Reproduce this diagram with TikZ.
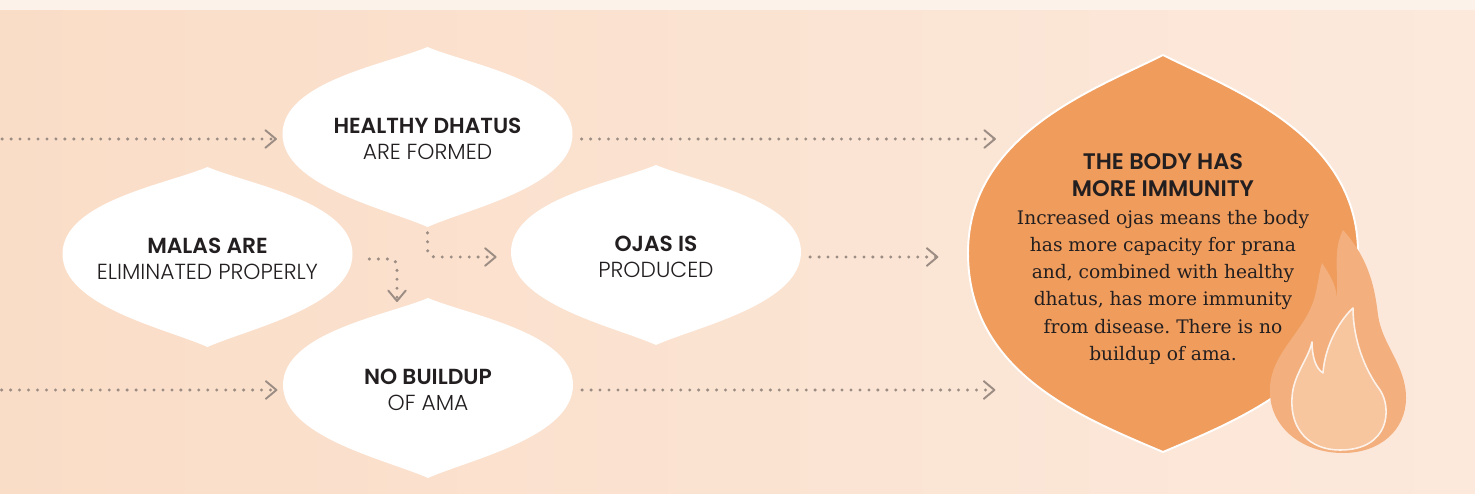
\documentclass[tikz,border=0pt]{standalone}
\usepackage{fontspec}
\setmainfont{DejaVu Serif}
\newfontfamily\headfont{Poppins}[UprightFont={* Light},BoldFont={* SemiBold}]
\usetikzlibrary{arrows.meta,shapes.geometric,positioning}
\definecolor{peach}{HTML}{FADDC7}
\definecolor{peachlight}{HTML}{FCE9DC}
\definecolor{topband}{HTML}{FDF2EA}
\definecolor{dotgrey}{HTML}{9C8D84}
\definecolor{bodyorange}{HTML}{EF9C5C}
\definecolor{flameorange}{HTML}{F3B07E}
\definecolor{flameinner}{HTML}{F7C59E}
\definecolor{inkdark}{HTML}{231F20}
\newcommand{\headline}[1]{{\headfont\bfseries\fontsize{12.8}{15.5}\selectfont #1}}
\newcommand{\leafshape}[1]{\fill[white,shift={(#1)}] (0,1.84) .. controls (0.8,1.5) and (2.9,1.15) .. (2.9,0.1) .. controls (2.9,-0.95) and (0.8,-1.4) .. (0,-1.76) .. controls (-0.8,-1.4) and (-2.9,-0.95) .. (-2.9,0.1) .. controls (-2.9,1.15) and (-0.8,1.5) .. cycle;}
\tikzset{
  leaf/.style={ellipse,minimum width=5.8cm,minimum height=3.6cm,inner sep=0pt,align=center,text=inkdark,font=\headfont\fontsize{12.4}{14.7}\selectfont},
  flow/.style={dotgrey,line width=1.9pt,dash pattern=on 0pt off 5.1pt,line cap=round,rounded corners=4pt,-{Straight Barb[length=6pt,width=10pt,line width=1.1pt,round]}},
}
\frenchspacing
\begin{document}
\begin{tikzpicture}[line join=round]
\useasboundingbox (0,0) rectangle (29.5,-9.88);
% background
\shade[left color=peach,right color=peachlight] (0,0) rectangle (29.5,-9.88);
\fill[topband] (0,0) rectangle (29.5,-0.2);
% white leaves
\foreach \n/\p/\t in {hd/{8.55,-2.78}/{\textbf{HEALTHY DHATUS}\\ARE FORMED},
  ml/{4.15,-5.18}/{\textbf{MALAS ARE}\\ELIMINATED PROPERLY},
  oj/{13.12,-5.14}/{\textbf{OJAS IS}\\PRODUCED},
  nb/{8.56,-7.8}/{\textbf{NO BUILDUP}\\OF AMA}}{
  \leafshape{\p}
  \node[leaf] (\n) at (\p) {\t};
}
% orange leaf
\coordinate (body) at (23.26,-5.06);
\filldraw[fill=bodyorange,draw=white,line width=1.1pt,shift={(body)}] (0,3.96) .. controls (1.3,3.3) and (3.9,2.4) .. (3.9,0) .. controls (3.9,-2.4) and (1.6,-3.3) .. (0,-3.98) .. controls (-1.6,-3.3) and (-3.9,-2.4) .. (-3.9,0) .. controls (-3.9,2.4) and (-1.3,3.3) .. cycle;
% flame
\fill[flameorange] (26.86,-9.06) .. controls (26.0,-9.06) and (25.36,-8.5) .. (25.4,-7.76) .. controls (25.42,-7.1) and (26.0,-6.7) .. (26.24,-6.1) .. controls (26.36,-5.8) and (26.36,-5.5) .. (26.44,-5.26) .. controls (26.6,-5.5) and (26.72,-5.7) .. (26.74,-5.96) .. controls (26.76,-5.4) and (26.66,-5.0) .. (26.86,-4.6) .. controls (27.4,-5.2) and (27.5,-5.8) .. (27.56,-6.3) .. controls (27.64,-6.9) and (28.12,-7.3) .. (28.12,-7.96) .. controls (28.12,-8.6) and (27.6,-9.06) .. cycle;
\filldraw[fill=flameinner,draw=topband,line width=0.9pt] (26.8,-9.0) .. controls (26.2,-9.0) and (25.8,-8.6) .. (25.84,-7.96) .. controls (25.86,-7.5) and (26.16,-7.2) .. (26.24,-6.84) .. controls (26.24,-7.1) and (26.3,-7.36) .. (26.46,-7.46) .. controls (26.5,-6.9) and (26.8,-6.4) .. (27.06,-6.16) .. controls (27.06,-6.8) and (27.3,-7.4) .. (27.6,-7.8) .. controls (27.84,-8.16) and (27.8,-9.0) .. cycle;
\node[align=center,text=inkdark,font=\fontsize{10.6}{15.5}\selectfont] (imm) at ([yshift=-0.12cm]body) {\headline{THE BODY HAS}\\\headline{MORE IMMUNITY}\\Increased ojas means the body\\has more capacity for prana\\and, combined with healthy\\dhatus, has more immunity\\from disease. There is no\\buildup of ama.};
% connectors
\coordinate[left=5.6cm of hd.west] (inA);
\coordinate[left=5.62cm of nb.west] (inB);
\coordinate[right=8.46cm of hd.east] (outA);
\coordinate[right=2.74cm of oj.east] (outB);
\coordinate[right=8.44cm of nb.east] (outC);
\coordinate (nbIn) at (7.94,-6.04);
\draw[flow,shorten >=3pt] (inA) -- (hd.west);
\draw[flow,shorten >=3pt] (inB) -- (nb.west);
\draw[flow,shorten <=5pt] (hd.east) -- (outA);
\draw[flow,shorten <=5pt] (oj.east) -- (outB);
\draw[flow,shorten <=5pt] (nb.east) -- (outC);
\draw[flow,shorten <=3pt] (ml.east) -| (nbIn);
\draw[flow,shorten <=2pt,shorten >=8pt] (hd.south) |- (oj.west);
\end{tikzpicture}
\end{document}
